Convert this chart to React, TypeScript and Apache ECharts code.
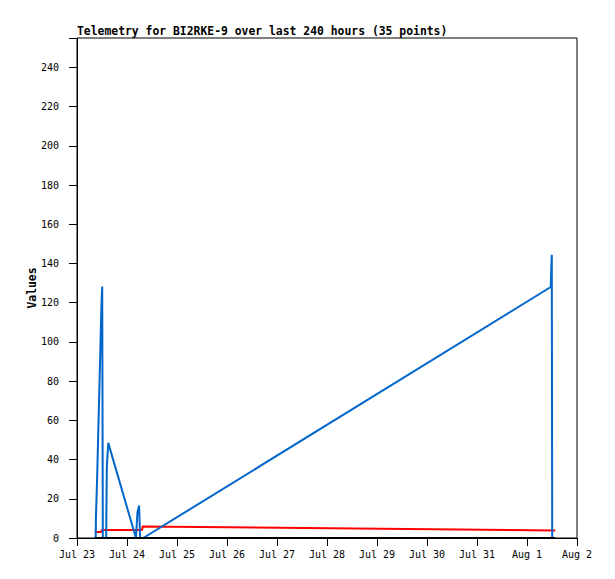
import React, { useEffect, useRef } from "react";
import * as echarts from "echarts";

const windowStart = "2023-07-23T00:00";
const windowHours = 240;
const monthNames = ["Jan", "Feb", "Mar", "Apr", "May", "Jun", "Jul", "Aug", "Sep", "Oct", "Nov", "Dec"];
const yTicks = [0, 20, 40, 60, 80, 100, 120, 140, 160, 180, 200, 220, 240];

const blueTimes = [
  "2023-07-23T08:59", "2023-07-23T09:06", "2023-07-23T09:42", "2023-07-23T10:12",
  "2023-07-23T10:42", "2023-07-23T11:12", "2023-07-23T11:42", "2023-07-23T12:06",
  "2023-07-23T12:24", "2023-07-23T14:00", "2023-07-23T14:18", "2023-07-23T15:00",
  "2023-07-24T04:18", "2023-07-24T05:00", "2023-07-24T05:48", "2023-07-24T06:18",
  "2023-07-24T07:48", "2023-08-01T11:24", "2023-08-01T11:36", "2023-08-01T11:54",
  "2023-08-01T12:06",
];
const blueValues = [0, 10.9, 32, 53.8, 74.6, 96, 117.5, 128.3, 0, 0, 36, 48.5, 0, 13, 16.5, 0, 0, 128, 136, 144.5, 0];

const redTimes = [
  "2023-07-23T08:30", "2023-07-23T11:36", "2023-07-23T11:54", "2023-07-24T07:18",
  "2023-07-24T07:30", "2023-08-01T13:36",
];
const redValues = [3.1, 3.1, 4.1, 4.1, 5.9, 3.8];

const blackTimes = ["2023-07-23T08:30", "2023-08-01T13:36"];
const blackValues = [0, 0];

function toHours(s: string): number {
  return (new Date(s).getTime() - new Date(windowStart).getTime()) / 3600000;
}

function pairs(times: string[], values: number[]) {
  return times.map((t, i) => [toHours(t), values[i]]);
}

function hourLabel(h: number): string {
  const d = new Date(new Date(windowStart).getTime() + h * 3600000);
  return monthNames[d.getMonth()] + " " + d.getDate();
}

export default function App() {
  const ref = useRef<HTMLDivElement>(null);
  useEffect(() => {
    document.body.style.margin = "0";
    const chart = echarts.init(ref.current!, null, { renderer: "svg" });
    const labelFont = "DejaVu Sans Mono";
    chart.setOption({
      animation: false,
      backgroundColor: "#ffffff",
      title: {
        text: "Telemetry for BI2RKE-9 over last 240 hours (35 points)",
        left: 77,
        top: 25,
        padding: 0,
        textStyle: { fontFamily: labelFont, fontWeight: "bold", fontSize: 11.4, color: "#000" },
      },
      grid: { left: 77, top: 38, right: 38, bottom: 41, show: true, borderColor: "#000", borderWidth: 1, backgroundColor: "transparent" },
      xAxis: {
        type: "value",
        min: 0,
        max: windowHours,
        interval: 24,
        axisLine: { show: true, lineStyle: { color: "#000", width: 1 } },
        axisTick: { show: true, inside: false, length: 8, lineStyle: { color: "#000" } },
        splitLine: { show: false },
        axisLabel: {
          margin: 11,
          fontFamily: labelFont,
          fontSize: 10,
          color: "#000",
          formatter: (v: number) => hourLabel(v),
        },
      },
      yAxis: {
        type: "value",
        min: 0,
        max: 255,
        interval: 20,
        name: "Values",
        nameLocation: "middle",
        nameRotate: 90,
        nameGap: 40,
        nameMoveOverlap: false,
        nameTextStyle: { fontFamily: labelFont, fontWeight: "bold", fontSize: 11.4, color: "#000" },
        axisLine: { show: true, lineStyle: { color: "#000", width: 1 } },
        axisTick: { show: true, inside: false, length: 8, lineStyle: { color: "#000" } },
        splitLine: { show: false },
        axisLabel: {
          margin: 18,
          fontFamily: labelFont,
          fontSize: 10,
          color: "#000",
          formatter: (v: number) => (yTicks.includes(v) ? String(v) : ""),
        },
      },
      series: [
        {
          type: "line",
          data: pairs(redTimes, redValues),
          showSymbol: false,
          z: 2,
          lineStyle: { color: "#ff0000", width: 2 },
          itemStyle: { color: "#ff0000" },
        },
        {
          type: "line",
          data: pairs(blueTimes, blueValues),
          showSymbol: false,
          z: 3,
          lineStyle: { color: "#0066cc", width: 2 },
          itemStyle: { color: "#0066cc" },
        },
        {
          type: "line",
          data: pairs(blackTimes, blackValues),
          showSymbol: false,
          z: 4,
          lineStyle: { color: "#000000", width: 2 },
          itemStyle: { color: "#000000" },
        },
      ],
    });
    return () => chart.dispose();
  }, []);
  return <div ref={ref} style={{ position: "absolute", left: 0, top: 0, width: 615, height: 579 }} />;
}
